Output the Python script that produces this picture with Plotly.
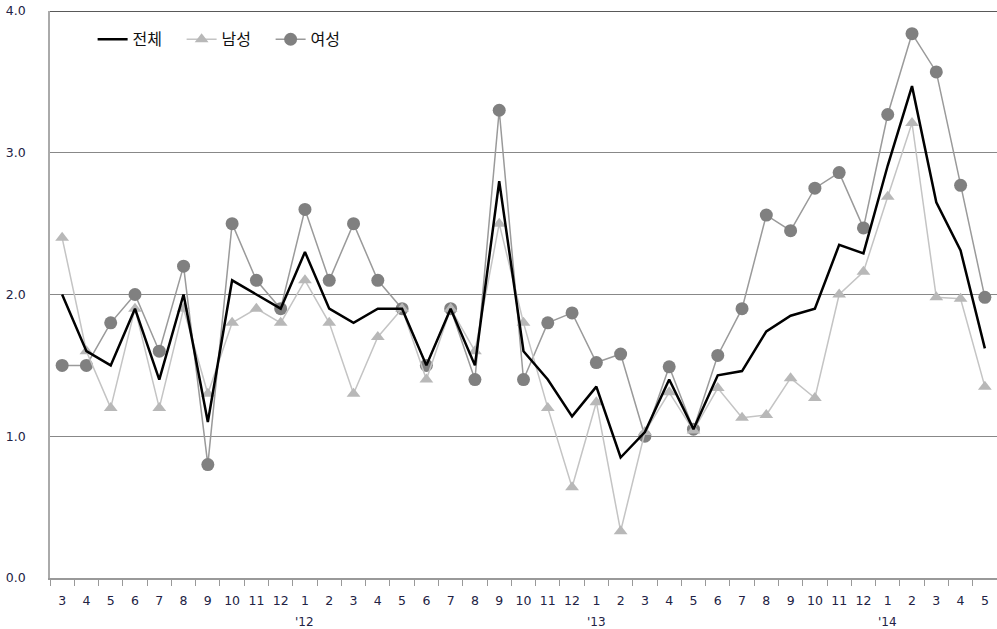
import plotly.graph_objects as go

# Monthly periods from 2011-03 to 2014-05
periods = (
    [f"2011-{m:02d}" for m in range(3, 13)]
    + [f"2012-{m:02d}" for m in range(1, 13)]
    + [f"2013-{m:02d}" for m in range(1, 13)]
    + [f"2014-{m:02d}" for m in range(1, 6)]
)
month_labels = [str(int(p[5:])) for p in periods]
year_marks = {"2012-01": "'12", "2013-01": "'13", "2014-01": "'14"}

total = [2.0, 1.6, 1.5, 1.9, 1.4, 2.0, 1.1, 2.1, 2.0, 1.9,
         2.3, 1.9, 1.8, 1.9, 1.9, 1.5, 1.9, 1.5, 2.8, 1.6, 1.4, 1.14,
         1.35, 0.85, 1.03, 1.4, 1.05, 1.43, 1.46, 1.74, 1.85, 1.9, 2.35, 2.29,
         2.91, 3.47, 2.65, 2.31, 1.62]
male = [2.4, 1.6, 1.2, 1.9, 1.2, 1.9, 1.3, 1.8, 1.9, 1.8,
        2.1, 1.8, 1.3, 1.7, 1.9, 1.4, 1.9, 1.6, 2.5, 1.8, 1.2, 0.64,
        1.24, 0.33, 1.03, 1.31, 1.04, 1.34, 1.13, 1.15, 1.41, 1.27, 2.0, 2.16,
        2.69, 3.21, 1.98, 1.97, 1.35]
female = [1.5, 1.5, 1.8, 2.0, 1.6, 2.2, 0.8, 2.5, 2.1, 1.9,
          2.6, 2.1, 2.5, 2.1, 1.9, 1.5, 1.9, 1.4, 3.3, 1.4, 1.8, 1.87,
          1.52, 1.58, 1.0, 1.49, 1.05, 1.57, 1.9, 2.56, 2.45, 2.75, 2.86, 2.47,
          3.27, 3.84, 3.57, 2.77, 1.98]

fig = go.Figure()
fig.add_trace(go.Scatter(
    x=periods, y=female, name="여성", mode="lines+markers",
    line=dict(color="#9a9a9a", width=1.5),
    marker=dict(symbol="circle", size=13, color="#808080"),
))
fig.add_trace(go.Scatter(
    x=periods, y=male, name="남성", mode="lines+markers",
    line=dict(color="#c4c4c4", width=1.5),
    marker=dict(symbol="triangle-up", size=12, color="#b8b8b8"),
))
fig.add_trace(go.Scatter(
    x=periods, y=total, name="전체", mode="lines",
    line=dict(color="#000000", width=2.5),
))

# top border of the plot
fig.add_shape(type="line", xref="paper", yref="y", x0=0, x1=1, y0=4, y1=4,
              line=dict(color="#222222", width=1.5), layer="below")

for p, lab in year_marks.items():
    fig.add_annotation(x=p, y=0, xref="x", yref="y", text=lab, showarrow=False,
                       yshift=-44, font=dict(family="DejaVu Sans", size=12, color="#222244"))

fig.update_layout(
    width=997, height=629,
    margin=dict(l=50, r=0, t=11, b=51),
    paper_bgcolor="white", plot_bgcolor="white",
    showlegend=True,
    legend=dict(orientation="h", x=0.045, y=0.98, xanchor="left", yanchor="top",
                traceorder="reversed", bgcolor="rgba(0,0,0,0)",
                entrywidth=44, entrywidthmode="pixels",
                font=dict(family="Noto Sans CJK KR", size=16, color="#111111")),
    font=dict(family="DejaVu Sans", size=12.5, color="#222244"),
)
fig.update_xaxes(
    type="category", categoryorder="array", categoryarray=periods,
    tickvals=periods, ticktext=month_labels, range=[-0.5, len(periods) - 0.5],
    tickson="boundaries", ticks="outside", ticklen=6, tickcolor="#999999",
    showline=True, linecolor="#999999", linewidth=1.5, showgrid=False,
    ticklabelstandoff=10, tickangle=0, zeroline=False,
)
fig.update_yaxes(
    range=[0, 4], tickvals=[0, 1, 2, 3, 4],
    ticktext=["0.0", "1.0", "2.0", "3.0", "4.0"],
    showgrid=True, gridcolor="#888888", gridwidth=1,
    showline=True, linecolor="#aaaaaa", linewidth=1.5,
    ticks="", ticklabelstandoff=20, zeroline=False,
)

fig.write_html("out.html")
